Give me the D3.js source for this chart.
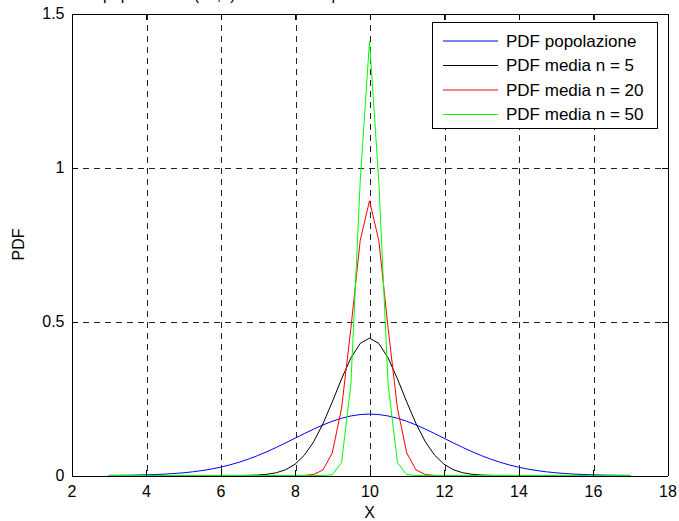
<!DOCTYPE html>
<html>
<head>
<meta charset="utf-8">
<script src="https://cdn.jsdelivr.net/npm/d3@7"></script>
<style>
  body { margin: 0; background: #fff; }
  svg { display: block; font-family: "Liberation Sans", Arial, Helvetica, sans-serif; }
  .axis text { font-size: 16px; fill: #000; }
  .axis line, .axis path { stroke: #000; shape-rendering: crispEdges; }
</style>
</head>
<body>
<svg id="pdfchart" width="679" height="521"></svg>
<script>
// x values of the samples (3 : 0.25 : 17)
var xValues = [3, 3.25, 3.5, 3.75, 4, 4.25, 4.5, 4.75, 5, 5.25, 5.5, 5.75, 6, 6.25, 6.5, 6.75,
  7, 7.25, 7.5, 7.75, 8, 8.25, 8.5, 8.75, 9, 9.25, 9.5, 9.75, 10, 10.25, 10.5, 10.75,
  11, 11.25, 11.5, 11.75, 12, 12.25, 12.5, 12.75, 13, 13.25, 13.5, 13.75, 14, 14.25,
  14.5, 14.75, 15, 15.25, 15.5, 15.75, 16, 16.25, 16.5, 16.75, 17];

// PDF values
var popolazione = [0.0004, 0.0007, 0.0010, 0.0015, 0.0022, 0.0032, 0.0045, 0.0064, 0.0088, 0.0119,
  0.0159, 0.0209, 0.0270, 0.0344, 0.0431, 0.0533, 0.0648, 0.0775, 0.0913, 0.1059, 0.1210, 0.1360,
  0.1506, 0.1641, 0.1760, 0.1859, 0.1933, 0.1979, 0.1995, 0.1979, 0.1933, 0.1859, 0.1760, 0.1641,
  0.1506, 0.1360, 0.1210, 0.1059, 0.0913, 0.0775, 0.0648, 0.0533, 0.0431, 0.0344, 0.0270, 0.0209,
  0.0159, 0.0119, 0.0088, 0.0064, 0.0045, 0.0032, 0.0022, 0.0015, 0.0010, 0.0007, 0.0004];

var media5 = [0, 0, 0, 0, 0, 0, 0, 0, 0, 0, 0, 0, 0, 0.0001, 0.0002, 0.0006, 0.0016, 0.0040, 0.0090,
  0.0188, 0.0366, 0.0658, 0.1093, 0.1680, 0.2387, 0.3138, 0.3815, 0.4289, 0.4460, 0.4289, 0.3815,
  0.3138, 0.2387, 0.1680, 0.1093, 0.0658, 0.0366, 0.0188, 0.0090, 0.0040, 0.0016, 0.0006, 0.0002,
  0.0001, 0, 0, 0, 0, 0, 0, 0, 0, 0, 0, 0, 0, 0];

var media20 = [0, 0, 0, 0, 0, 0, 0, 0, 0, 0, 0, 0, 0, 0, 0, 0, 0, 0, 0, 0, 0, 0.0004, 0.0032, 0.0179,
  0.0732, 0.2186, 0.4775, 0.7630, 0.8921, 0.7630, 0.4775, 0.2186, 0.0732, 0.0179, 0.0032, 0.0004,
  0, 0, 0, 0, 0, 0, 0, 0, 0, 0, 0, 0, 0, 0, 0, 0, 0, 0, 0, 0, 0];

var media50 = [0, 0, 0, 0, 0, 0, 0, 0, 0, 0, 0, 0, 0, 0, 0, 0, 0, 0, 0, 0, 0, 0, 0, 0.0001, 0.0027,
  0.0419, 0.2957, 0.9544, 1.4105, 0.9544, 0.2957, 0.0419, 0.0027, 0.0001, 0, 0, 0, 0, 0, 0, 0, 0,
  0, 0, 0, 0, 0, 0, 0, 0, 0, 0, 0, 0, 0, 0, 0];

var seriesNames = ["PDF popolazione", "PDF media n = 5", "PDF media n = 20", "PDF media n = 50"];
var seriesColors = ["#0000ff", "#000000", "#ff0000", "#00ff00"];
var xTicks = [2, 4, 6, 8, 10, 12, 14, 16, 18];
var yTicks = [0, 0.5, 1, 1.5];

var svg = d3.select("#pdfchart"),
    margin = {top: 13.5, right: 11.5, bottom: 45.5, left: 71.5},
    width = +svg.attr("width") - margin.left - margin.right,
    height = +svg.attr("height") - margin.top - margin.bottom,
    g = svg.append("g").attr("transform", "translate(" + margin.left + "," + margin.top + ")");

var x = d3.scaleLinear().domain([2, 18]).range([0, width]);
var y = d3.scaleLinear().domain([0, 1.5]).range([height, 0]);

// title, cut off by the top of the figure (as in the original)
svg.append("text")
    .attr("x", 6)
    .attr("y", 0)
    .attr("font-size", "16px")
    .text("Distribuzione popolazione (10,2) e media campionaria");

// dashed grid
g.append("g")
    .selectAll("line")
    .data(xTicks.slice(1, -1))
    .enter().append("line")
      .attr("x1", function(d) { return Math.round(x(d)) + 0.5; })
      .attr("x2", function(d) { return Math.round(x(d)) + 0.5; })
      .attr("y1", 0)
      .attr("y2", height)
      .attr("stroke", "#222")
      .attr("stroke-dasharray", "6,5")
      .attr("shape-rendering", "crispEdges");

g.append("g")
    .selectAll("line")
    .data(yTicks.slice(1, -1))
    .enter().append("line")
      .attr("x1", 0)
      .attr("x2", width)
      .attr("y1", function(d) { return Math.round(y(d)) + 0.5; })
      .attr("y2", function(d) { return Math.round(y(d)) + 0.5; })
      .attr("stroke", "#222")
      .attr("stroke-dasharray", "6,5")
      .attr("shape-rendering", "crispEdges");

// curves
var allSeries = [popolazione, media5, media20, media50];
var line = d3.line()
    .x(function(d, i) { return x(xValues[i]); })
    .y(function(d) { return y(d); });

g.append("g")
    .selectAll("path")
    .data(allSeries)
    .enter().append("path")
      .attr("fill", "none")
      .attr("stroke", function(d, i) { return seriesColors[i]; })
      .attr("stroke-width", 1)
      .attr("d", line);

// axes with inward ticks, box on all four sides
g.append("g")
    .attr("class", "axis")
    .attr("transform", "translate(0," + height + ")")
    .call(d3.axisBottom(x).tickValues(xTicks).tickSize(-6).tickSizeOuter(0).tickPadding(10));

g.append("g")
    .attr("class", "axis")
    .call(d3.axisTop(x).tickValues(xTicks).tickSize(-6).tickSizeOuter(0).tickFormat(""));

g.append("g")
    .attr("class", "axis")
    .call(d3.axisLeft(y).tickValues(yTicks).tickSize(-6).tickSizeOuter(0).tickPadding(7)
      .tickFormat(function(d) { return d; }));

g.append("g")
    .attr("class", "axis")
    .attr("transform", "translate(" + width + ",0)")
    .call(d3.axisRight(y).tickValues(yTicks).tickSize(-6).tickSizeOuter(0).tickFormat(""));

g.selectAll(".axis .domain").attr("fill", "none");

// axis labels
svg.append("text")
    .attr("x", margin.left + width / 2)
    .attr("y", 518)
    .attr("text-anchor", "middle")
    .attr("font-size", "16px")
    .text("X");

svg.append("text")
    .attr("transform", "translate(24," + (margin.top + height / 2) + ") rotate(-90)")
    .attr("text-anchor", "middle")
    .attr("font-size", "16px")
    .text("PDF");

// legend
var legend = svg.append("g")
    .attr("font-size", "17px");

legend.append("rect")
    .attr("x", 432.5)
    .attr("y", 22.5)
    .attr("width", 225)
    .attr("height", 106)
    .attr("fill", "#fff")
    .attr("stroke", "#000")
    .attr("shape-rendering", "crispEdges");

var rows = legend.selectAll(".row")
    .data(seriesNames)
    .enter().append("g")
      .attr("class", "row")
      .attr("transform", function(d, i) { return "translate(0," + (41 + i * 24.5) + ")"; });

rows.append("line")
    .attr("x1", 443)
    .attr("x2", 498)
    .attr("stroke", function(d, i) { return seriesColors[i]; });

rows.append("text")
    .attr("x", 506)
    .attr("dy", "0.35em")
    .text(function(d) { return d; });
</script>
</body>
</html>
